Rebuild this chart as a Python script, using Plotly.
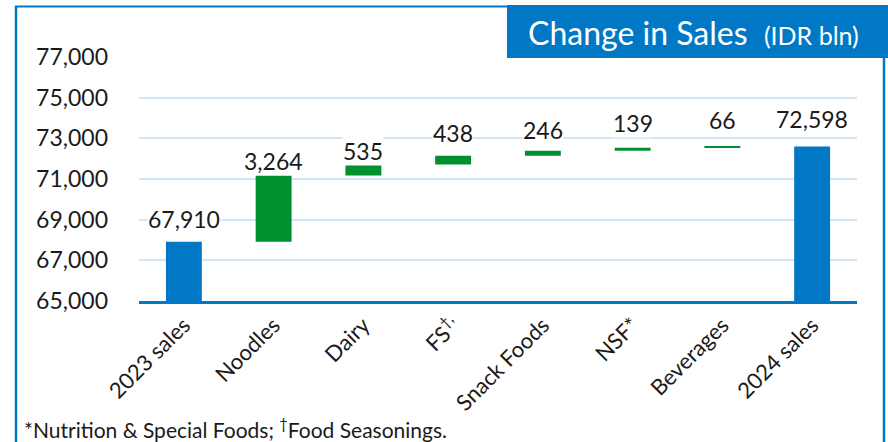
import plotly.graph_objects as go

# ---- data ----
categories = ["2023 sales", "Noodles", "Dairy", "FS<sup>†,</sup>", "Snack Foods", "NSF*", "Beverages", "2024 sales"]
values = [67910, 3264, 535, 438, 246, 139, 66, 72598]
measures = ["absolute", "relative", "relative", "relative", "relative", "relative", "relative", "total"]
y_ticks = [65000, 67000, 69000, 71000, 73000, 75000, 77000]

# ---- style ----
BLUE = "#0078C6"
GREEN = "#00902F"
GRID = "#D3E5F4"
FONT = "Lato"
TXT = "#1a1a1a"
W, H = 888, 442
L, R, T, B = 139, 31, 57, 141
label_lift_px = [23, 14, 14, 23, 21, 25, 26.5, 28]

pw, ph = W - L - R, H - T - B


def px(x):
    return (x - L) / pw


def py(y):
    return (H - B - y) / ph


fig = go.Figure()
fig.add_trace(go.Waterfall(
    x=categories,
    y=values,
    measure=measures,
    width=0.4,
    connector=dict(visible=False),
    increasing=dict(marker=dict(color=GREEN)),
    totals=dict(marker=dict(color=BLUE)),
    hoverinfo="skip",
    textinfo="none",
))

# value labels above bar tops (computed from the running total)
running = 0
for i, (c, v, m) in enumerate(zip(categories, values, measures)):
    if m in ("absolute", "total"):
        running = v
    else:
        running += v
    fig.add_annotation(
        x=c, y=running, xref="x", yref="y",
        text=f"{v:,}", showarrow=False,
        yanchor="middle", yshift=label_lift_px[i],
        font=dict(family=FONT, size=23, color=TXT),
        bgcolor="white", borderpad=0,
    )

# frame
shapes = [
    dict(type="line", xref="paper", yref="paper", x0=px(16), x1=px(16), y0=py(6), y1=py(442),
         line=dict(color=BLUE, width=2.5)),
    dict(type="line", xref="paper", yref="paper", x0=px(15), x1=px(508), y0=py(6.5), y1=py(6.5),
         line=dict(color=BLUE, width=2)),
    dict(type="line", xref="paper", yref="paper", x0=px(884), x1=px(884), y0=py(57), y1=py(442),
         line=dict(color=BLUE, width=2.5)),
    dict(type="rect", xref="paper", yref="paper", x0=px(507), x1=px(888), y0=py(5), y1=py(58),
         fillcolor=BLUE, line=dict(width=0), layer="above"),
]

fig.add_annotation(
    xref="paper", yref="paper", x=px(526), y=py(33), xanchor="left", yanchor="middle",
    text="Change in Sales  <span style='font-size:25px'>(IDR bln)</span>",
    showarrow=False, font=dict(family=FONT, size=32, color="white"),
)
fig.add_annotation(
    xref="paper", yref="paper", x=px(22), y=py(428), xanchor="left", yanchor="middle",
    text="*Nutrition &amp; Special Foods; <sup>†</sup>Food Seasonings.",
    showarrow=False, font=dict(family=FONT, size=21, color=TXT),
)

fig.update_layout(
    width=W, height=H,
    margin=dict(l=L, r=R, t=T, b=B, pad=0),
    paper_bgcolor="white", plot_bgcolor="white",
    showlegend=False,
    shapes=shapes,
    font=dict(family=FONT, color=TXT),
    xaxis=dict(
        tickangle=-45, tickfont=dict(family=FONT, size=22, color=TXT),
        showline=True, linecolor=BLUE, linewidth=2.5,
        showgrid=False, ticks="",
    ),
    yaxis=dict(
        range=[65000, 77000], tickvals=y_ticks, tickformat=",",
        tickfont=dict(family=FONT, size=23, color=TXT),
        showgrid=True, gridcolor=GRID, gridwidth=2,
        zeroline=False, showline=False, ticks="",
        ticklabelstandoff=30,
    ),
)

fig.write_html(
    "out.html",
    config={"displayModeBar": False},
    post_script="document.body.style.margin='0';document.body.style.padding='0';",
)
